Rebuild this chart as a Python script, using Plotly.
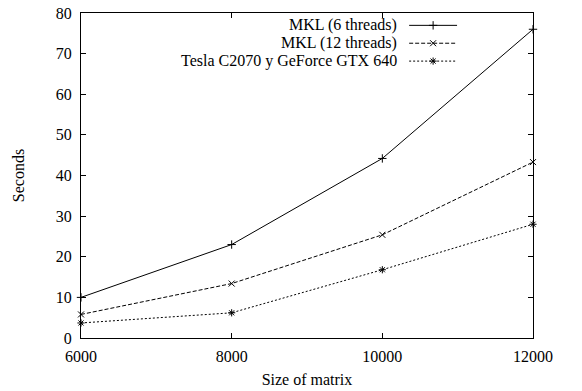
import plotly.graph_objects as go

sizes = [6000, 8000, 10000, 12000]
size_labels = ["6000", "8000", "10000", "12000"]
mkl6 = [10.0, 23.0, 44.2, 76.0]
mkl12 = [5.8, 13.4, 25.4, 43.3]
gpu = [3.7, 6.2, 16.8, 28.0]
names = ["MKL (6 threads)", "MKL (12 threads)", "Tesla C2070 y GeForce GTX 640"]
dashes = ["solid", "4px,2px", "2px,2px"]
symbols = ["cross-thin-open", "x-thin-open", "asterisk-open"]
series = [mkl6, mkl12, gpu]

FONT = "Liberation Serif"
FS = 16
fig = go.Figure()
for ys, nm, d, s in zip(series, names, dashes, symbols):
    fig.add_trace(go.Scatter(
        x=sizes, y=ys, name=nm, mode="lines+markers",
        line=dict(color="black", width=1, dash=d),
        marker=dict(symbol=s, size=6, color="black", line=dict(color="black", width=1)),
        showlegend=False, cliponaxis=False))

# custom legend (sample line right of text, gnuplot style)
leg_y = [0.962, 0.907, 0.852]
for nm, d, s, ly in zip(names, dashes, symbols, leg_y):
    fig.add_trace(go.Scatter(
        x=[0.726, 0.832], y=[ly, ly], xaxis="x2", yaxis="y2", mode="lines",
        line=dict(color="black", width=1, dash=d), showlegend=False, hoverinfo="skip"))
    fig.add_trace(go.Scatter(
        x=[0.779], y=[ly], xaxis="x2", yaxis="y2", mode="markers",
        marker=dict(symbol=s, size=6, color="black", line=dict(color="black", width=1)),
        showlegend=False, hoverinfo="skip"))
    fig.add_annotation(x=0.703, y=ly, xref="paper", yref="paper", text=nm,
                       showarrow=False, xanchor="right", yanchor="middle",
                       font=dict(family=FONT, size=FS, color="black"))

axis_common = dict(showgrid=False, zeroline=False, showline=True, linecolor="black",
                   linewidth=1, mirror="allticks", ticks="inside", ticklen=5,
                   tickcolor="black", automargin=False,
                   tickfont=dict(family=FONT, size=FS, color="black"))
fig.update_layout(
    width=582, height=391, margin=dict(l=81, r=49, t=13, b=53),
    plot_bgcolor="white", paper_bgcolor="white",
    xaxis=dict(range=[6000, 12000], tickvals=sizes, ticktext=size_labels,
               ticklabelstandoff=4,
               title=dict(text="Size of matrix", font=dict(family=FONT, size=FS, color="black"), standoff=9),
               **axis_common),
    yaxis=dict(range=[0, 80], dtick=10, ticklabelstandoff=5,
               title=dict(text="Seconds", font=dict(family=FONT, size=FS, color="black"), standoff=27),
               **axis_common),
    xaxis2=dict(range=[0, 1], overlaying="x", visible=False, fixedrange=True),
    yaxis2=dict(range=[0, 1], overlaying="y", visible=False, fixedrange=True),
    font=dict(family=FONT, color="black"),
)
fig.write_html("out.html")
